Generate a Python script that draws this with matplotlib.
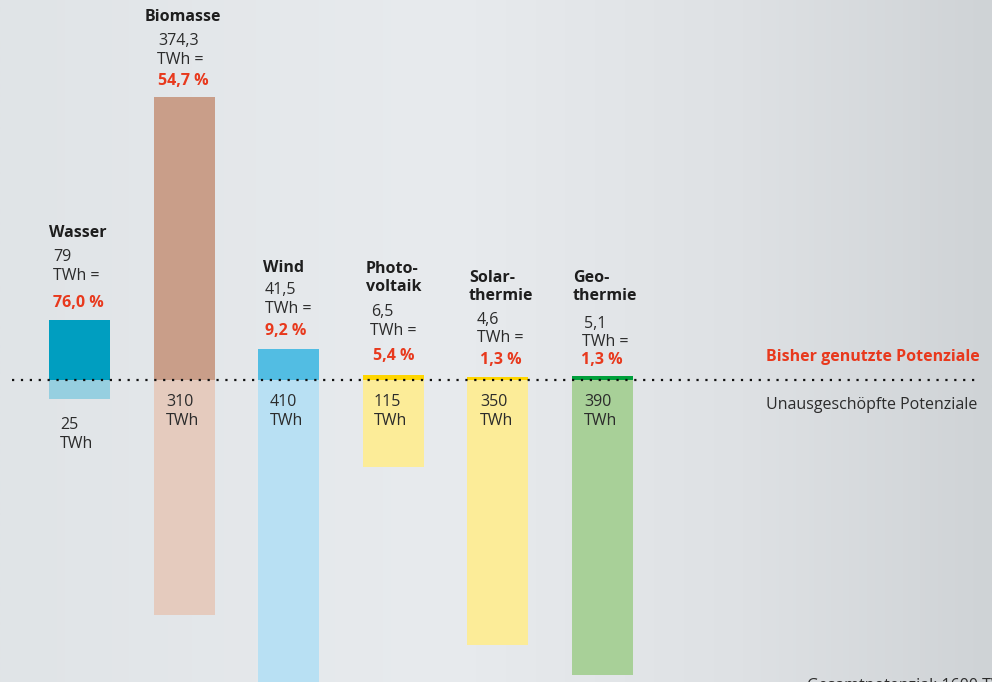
import matplotlib
matplotlib.use("Agg")
import matplotlib.pyplot as plt
import numpy as np

plt.rcParams["font.family"] = ["Open Sans", "DejaVu Sans"]

# Daten (TWh)
names = ["Wasser", "Biomasse", "Wind", "Photo-\nvoltaik", "Solar-\nthermie", "Geo-\nthermie"]
used = [79, 374.3, 41.5, 6.5, 4.6, 5.1]
unused = [25, 310, 410, 115, 350, 390]
used_label = ["79", "374,3", "41,5", "6,5", "4,6", "5,1"]
share_label = ["76,0 %", "54,7 %", "9,2 %", "5,4 %", "1,3 %", "1,3 %"]

col_used = ["#009ec0", "#c99e89", "#52bde3", "#ffd600", "#ffd600", "#00a03c"]
col_unused = ["#96cfe0", "#e5cbbe", "#b8e0f3", "#fcec98", "#fcec98", "#a8d098"]

TXT = "#2b2b2b"
RED = "#e8391d"
FS = 11.5

W, H = 992, 682
fig = plt.figure(figsize=(W / 100, H / 100), dpi=100)

# Hintergrund mit Verlauf
bg = fig.add_axes([0, 0, 1, 1])
stops = [0.0, 0.45, 0.75, 1.0]
cols = np.array([[224, 228, 231], [232, 235, 238], [222, 225, 228], [207, 211, 214]]) / 255
xs = np.linspace(0, 1, 400)
grad = np.stack([np.interp(xs, stops, cols[:, k]) for k in range(3)], axis=-1)
bg.imshow(grad[np.newaxis, :, :], aspect="auto", extent=[0, 1, 0, 1])
bg.set_axis_off()

ax = fig.add_axes([0, 0, 1, 1])
ax.patch.set_alpha(0)
ax.set_axis_off()

scale = 0.757          # px pro TWh
spacing = 104.6        # px zwischen Balken
x0 = 79.5              # Mitte des ersten Balkens
base = 380             # Nulllinie in px
ax.set_xlim(-x0 / spacing, (W - x0) / spacing)
ax.set_ylim(-(H - base) / scale, base / scale)
bw = 61 / spacing

x = np.arange(len(names))
ax.bar(x, used, width=bw, color=col_used, zorder=2)
ax.bar(x, [-u for u in unused], width=bw, color=col_unused, zorder=2)
# dünne Oberkante bei kleinen Werten
ax.bar(x[3:], [-1] * 3, bottom=[u for u in used[3:]], width=bw, color=col_unused[3:], zorder=1)

ax.plot([(12 - x0) / spacing, (977 - x0) / spacing], [0, 0], color="#111111",
        linestyle=(0, (1, 3)), linewidth=1.6, zorder=3)


def px(xp, yp):
    return xp / W, 1 - yp / H


# Beschriftungen oben (Pixelpositionen)
name_pos = [(49, 233), (145, 17), (263, 268), (366, 278), (469, 287), (573, 287)]
val_pos = [(53, 257), (158, 41), (265, 290), (371, 312), (477, 320), (584, 324)]
twh_pos = [(53, 276), (157, 60), (265, 309), (370, 331), (477, 338), (582, 342)]
pct_pos = [(53, 303), (158, 81), (265, 331), (373, 356), (480, 360), (581, 360)]
low_pos = [(60, 425), (166, 402), (270, 402), (374, 402), (480, 402), (584, 402)]

for i in range(len(names)):
    fig.text(*px(*name_pos[i]), names[i], fontsize=FS, fontweight="bold", color="#1e1e1e",
             ha="left", va="center", linespacing=1.15)
    fig.text(*px(*val_pos[i]), used_label[i], fontsize=FS, color=TXT, ha="left", va="center")
    fig.text(*px(*twh_pos[i]), "TWh =", fontsize=FS, color=TXT, ha="left", va="center")
    fig.text(*px(*pct_pos[i]), share_label[i], fontsize=FS, fontweight="bold", color=RED,
             ha="left", va="center")
    lx, ly = low_pos[i]
    fig.text(*px(lx, ly), str(unused[i]), fontsize=FS, color=TXT, ha="left", va="center")
    fig.text(*px(lx, ly + 19), "TWh", fontsize=FS, color=TXT, ha="left", va="center")

fig.text(*px(980, 357), "Bisher genutzte Potenziale", fontsize=FS, fontweight="bold",
         color=RED, ha="right", va="center")
fig.text(*px(977, 405), "Unausgeschöpfte Potenziale", fontsize=FS, color=TXT,
         ha="right", va="center")
fig.text(*px(807, 678), "Gesamtpotenzial: 1600 TWh", fontsize=FS, color=TXT,
         ha="left", va="top")

fig.savefig("out.png", dpi=100)
